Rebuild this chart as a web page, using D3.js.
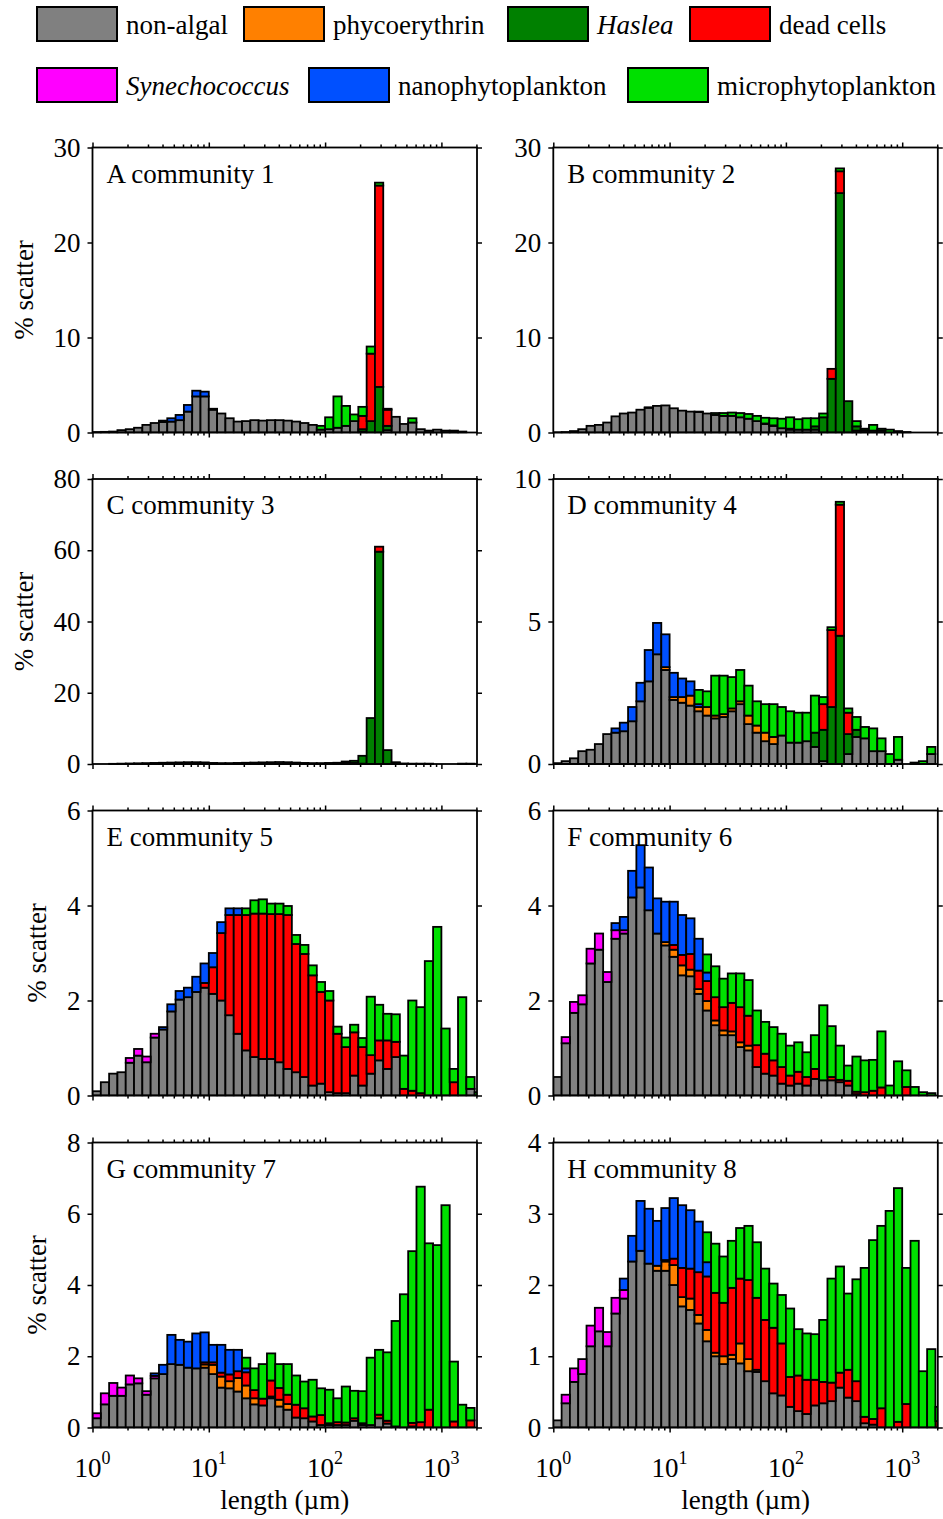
<!DOCTYPE html>
<html>
<head>
<meta charset="utf-8">
<script src="https://cdn.jsdelivr.net/npm/d3@7"></script>
<style>
  body { margin: 0; background: #fff; }
  text { font-family: "Liberation Serif", "Times New Roman", serif; fill: #000; }
</style>
</head>
<body>
<svg id="chart" width="943" height="1519"></svg>
<script>
// % scatter per size bin (47 log bins, 14 per decade, starting at 1 um)
// arrays may stop early: missing bins are zero

// A community 1
const A_nonalgal = [0.05,0.07,0.1,0.25,0.35,0.5,0.8,1.0,1.1,1.15,
  1.3,2.2,3.8,3.8,2.4,2.0,1.5,1.15,1.2,1.3,
  1.25,1.3,1.3,1.25,1.15,1.0,0.8,0.3,0.35,0.5,
  0.7,1.2,0.1,0,0,0.25,1.65,0.9,1.05,0.35,
  0.2,0.3,0.2,0.05,0.1];
const A_haslea = [0,0,0,0,0,0,0,0,0,0, 0,0,0,0,0,0,0,0,0,0, 0,0,0,0,0,0,0,0,0,0, 0,0,0.25,1.2,4.8,0.45];
const A_dead   = [0,0,0,0,0,0,0,0,0,0, 0,0,0,0,0,0,0,0,0,0, 0,0,0,0,0,0,0,0,0,0, 0,0,1.4,7.1,21.2,1.7];
const A_nano   = [0,0,0,0,0,0,0,0,0.15,0.35, 0.55,0.7,0.6,0.5,0.1];
const A_micro  = [0,0,0,0,0,0,0,0,0,0, 0,0,0,0,0,0,0,0,0,0,
  0,0,0,0,0,0,0,0.4,1.25,3.3,
  2.1,0.7,0.95,0.75,0.3,0.1,0,0,0.45,0,
  0,0,0,0.15];

// B community 2
const B_nonalgal = [0.02,0.05,0.15,0.35,0.7,0.8,1.05,1.7,2.0,2.1,
  2.4,2.6,2.8,2.85,2.55,2.3,2.2,2.15,2.0,1.85,
  1.75,1.75,1.6,1.45,1.2,0.9,0.7,0.45,0.3,0.3,
  0.3,0.3,0,0,0,0,0.2,0.2,0.2,0.2,
  0,0.15,0.05];
const B_phyco  = [0,0,0,0,0,0,0,0,0,0, 0,0,0,0,0,0,0,0.05,0,0, 0,0,0,0,0,0.05,0.05];
const B_haslea = [0,0,0,0,0,0,0,0,0,0, 0,0,0,0,0,0,0,0,0,0, 0,0,0,0,0,0,0,0,0.1,0, 0,0.35,1.6,5.65,25.2,3.3,0.45,0.2];
const B_dead   = [0,0,0,0,0,0,0,0,0,0, 0,0,0,0,0,0,0,0,0,0, 0,0,0,0,0,0,0,0,0,0, 0,0,0,1.05,2.3];
const B_nano   = [0,0,0,0,0,0,0,0,0,0, 0,0.05];
const B_micro  = [0,0,0,0,0,0,0,0,0,0, 0,0,0,0,0,0,0,0,0,0.2,
  0.3,0.35,0.45,0.5,0.55,0.6,0.75,1.0,1.2,1.1,
  1.2,0.85,0.4,0,0.3,0,0.55,0,0.6,0.2,
  0.3];

// C community 3
const C_nonalgal = [0,0,0.05,0.1,0.15,0.2,0.25,0.3,0.35,0.4,
  0.45,0.5,0.5,0.45,0.3,0.25,0.25,0.3,0.35,0.4,
  0.45,0.5,0.55,0.5,0.4,0.3,0.25,0.25,0.3,0.35,
  0.4,0.3,0.1,0,0,0,0.2,0.15,0.1,0.1,
  0.1,0,0,0,0.1,0.1];
const C_haslea = [0,0,0,0,0,0,0,0,0,0, 0,0,0,0,0,0,0,0,0,0, 0,0,0,0,0,0,0,0,0,0, 0.3,0.6,2.2,12.9,59.6,3.9,0.3];
const C_dead   = [0,0,0,0,0,0,0,0,0,0, 0,0,0,0,0,0,0,0,0,0, 0,0,0,0,0,0,0,0,0,0, 0,0,0,0,1.4];

// D community 4
const D_nonalgal = [0.03,0.1,0.2,0.45,0.5,0.7,1.05,1.1,1.15,1.5,
  2.2,2.9,3.85,3.3,2.25,2.15,2.05,1.85,1.7,1.6,
  1.65,1.85,2.1,1.4,1.1,0.8,0.7,1.0,0.75,0.75,
  0.8,0.6,0.1,0,0,0.35,0.95,0.9,0.45,0.45,
  0,0.15,0,0,0,0.35];
const D_phyco  = [0,0,0,0,0,0,0,0,0,0, 0,0,0,0.1,0.1,0.2,0.35,0.15,0.3,0.1, 0.1,0.1,0.1,0.3,0.25,0.3,0.25];
const D_haslea = [0,0,0,0,0,0,0,0,0,0, 0,0,0,0,0,0,0,0,0,0, 0,0,0,0,0,0,0,0,0,0, 0,0.5,1.1,2.0,4.5,0.7,0.25];
const D_dead   = [0,0,0,0,0,0,0,0,0,0, 0,0,0,0,0,0,0,0,0,0, 0,0,0,0,0,0,0,0,0,0, 0,0,0.9,2.7,4.6,0.75];
const D_nano   = [0,0,0,0,0,0,0,0.15,0.3,0.5, 0.65,1.1,1.1,1.15,0.85,0.65,0.5,0.1];
const D_micro  = [0,0,0,0,0,0,0,0,0,0,
  0,0,0,0,0,0,0,0.5,0.55,1.4,
  1.35,1.1,1.1,1.05,0.85,1.0,1.15,1.0,1.1,1.05,
  1.0,1.3,0.25,0.1,0.1,0.15,0.45,0.4,0.8,0.45,
  0.35,0.8,0,0.05,0.1,0.25];

// E community 5
const E_nonalgal = [0.09,0.28,0.46,0.49,0.69,0.84,0.7,1.22,1.39,1.77,
  2.02,2.07,2.18,2.27,2.14,2.0,1.69,1.3,0.95,0.81,
  0.77,0.77,0.7,0.56,0.49,0.39,0.21,0.25,0.07,0.05,
  0.05,0.42,0.21,0.46,0.74,0.56,0.81,0,0,0,
  0,0,0,0,0,0.14];
const E_syn  = [0,0,0,0,0.1,0.14,0.12,0.08];
const E_dead = [0,0,0,0,0,0,0,0,0,0,
  0,0,0,0.1,0.56,1.42,2.11,2.5,2.85,3.02,
  3.06,3.05,3.12,3.24,2.7,2.59,2.32,1.93,1.93,1.25,
  0.97,0.91,0.81,0.39,0.42,0.6,0.32,0.14,0.1,0.05,
  0,0,0,0.28];
const E_nano = [0,0,0,0,0,0,0,0,0.05,0.15, 0.18,0.2,0.32,0.41,0.3,0.23,0.14,0.14];
const E_micro = [0,0,0,0,0,0,0,0,0,0,
  0,0,0,0,0,0,0,0,0.14,0.28,
  0.3,0.22,0.22,0.19,0.19,0.19,0.21,0.21,0.2,0.15,
  0.2,0.16,0.19,1.23,0.75,0.56,0.58,0.7,1.9,1.81,
  2.83,3.55,1.41,0.28,2.07,0.25,0.07];

// F community 6
const F_nonalgal = [0.39,1.1,1.74,1.92,2.78,3.07,2.39,3.3,3.41,4.17,
  4.38,3.9,3.41,3.16,2.92,2.53,2.51,2.14,1.79,1.48,
  1.27,1.27,1.02,0.95,0.6,0.46,0.42,0.25,0.21,0.25,
  0.21,0.35,0.32,0.32,0.28,0.21,0.03];
const F_syn   = [0,0.13,0.23,0.19,0.31,0.34,0.21,0.18,0.07];
const F_phyco = [0,0,0,0,0,0,0,0,0,0, 0,0,0,0.07,0.15,0.21,0.14,0.1,0.2,0.1, 0.1,0.08,0.1,0.1];
const F_dead  = [0,0,0,0,0,0,0,0,0,0,
  0,0,0,0,0.1,0.22,0.33,0.39,0.42,0.49,
  0.49,0.6,0.74,0.63,0.46,0.42,0.32,0.35,0.21,0.25,
  0.18,0.21,0,0.07,0.05,0.1,0.05,0.07,0.1,0.17,
  0,0,0.18];
const F_nano  = [0,0,0,0,0,0,0,0.15,0.28,0.56, 0.89,0.9,0.74,0.85,0.91,0.84,0.75,0.67,0.18];
const F_micro = [0,0,0,0,0,0,0,0,0,0,
  0,0,0,0,0,0,0,0,0.38,0.65,
  0.6,0.62,0.71,0.75,0.73,0.67,0.7,0.7,0.63,0.62,
  0.52,0.71,1.58,1.07,0.72,0.32,0.74,0.67,0.65,1.18,
  0.21,0.72,0.35,0.18,0.07,0.05];

// G community 7
const G_nonalgal = [0.26,0.65,0.89,0.89,1.21,1.24,0.92,1.38,1.5,1.78,
  1.76,1.68,1.66,1.68,1.5,1.12,1.1,1.01,0.82,0.65,
  0.62,0.82,0.59,0.5,0.28,0.26,0.17,0.07,0.07,0.07,
  0.07,0.19,0.07,0.07,0.26,0.11,0.03,0,0.03];
const G_syn   = [0.14,0.31,0.36,0.23,0.25,0.14,0.1,0.07];
const G_phyco = [0,0,0,0,0,0,0,0,0,0, 0,0,0,0.09,0.26,0.31,0.2,0.38,0.36,0.17, 0,0.05,0.19,0.16];
const G_dead  = [0,0,0,0,0,0,0,0,0,0,
  0,0,0,0.06,0.07,0.11,0.19,0.19,0.37,0.23,
  0.19,0.45,0.33,0.26,0.36,0.28,0.14,0.28,0.05,0.08,
  0.07,0.07,0.05,0,0.1,0.08,0,0,0.1,0.15,
  0.5,0,0,0.17,0,0.2];
const G_nano  = [0,0,0,0,0,0,0,0.07,0.26,0.82, 0.7,0.73,0.98,0.84,0.49,0.78,0.69,0.6,0.11];
const G_micro = [0,0,0,0,0,0,0,0,0,0,
  0,0,0,0,0,0,0,0,0.3,0.61,
  0.97,0.76,0.67,0.86,0.82,0.75,1.03,0.75,0.94,0.67,
  1.01,0.77,0.9,1.89,1.82,1.92,2.96,3.74,4.82,6.61,
  4.67,5.12,6.24,1.68,0.64,0.35];

// H community 8
const H_nonalgal = [0.1,0.34,0.64,0.75,1.14,1.35,1.14,1.6,1.81,2.33,
  2.48,2.3,2.2,2.2,2.0,1.7,1.65,1.46,1.21,1.0,
  0.89,0.96,0.9,0.79,0.78,0.65,0.48,0.45,0.29,0.23,
  0.19,0.31,0.34,0.37,0.56,0.42,0.37,0.06,0.04];
const H_syn   = [0,0.12,0.19,0.21,0.29,0.33,0.2,0.22,0.12];
const H_phyco = [0,0,0,0,0,0,0,0,0,0, 0,0,0.07,0.13,0.28,0.13,0.16,0.12,0.16,0.05, 0.11,0.06,0.28,0.17,0.03];
const H_dead  = [0,0,0,0,0,0,0,0,0,0,
  0,0,0,0.02,0.09,0.41,0.42,0.6,0.75,0.84,
  0.75,0.94,0.91,1.11,1.01,0.86,0.92,0.73,0.42,0.5,
  0.48,0.36,0.3,0.26,0.21,0.39,0.28,0.09,0.08,0.27,
  0,0.08,0.33,0,0,0,0.09];
const H_nano  = [0,0,0,0,0,0,0,0,0.16,0.36, 0.7,0.77,0.63,0.73,0.85,0.88,0.82,0.71,0.2];
const H_micro = [0,0,0,0,0,0,0,0,0,0,
  0,0,0,0,0,0,0,0,0.42,0.69,
  0.65,0.66,0.71,0.76,0.78,0.72,0.62,0.68,0.96,0.65,
  0.65,0.64,0.87,1.46,1.49,1.07,1.43,2.09,2.51,2.56,
  3.04,3.28,1.91,2.62,0.79,1.1,0.2];

const categories = ["nonalgal","phyco","haslea","dead","syn","nano","micro"];
const catLabels  = ["non-algal","phycoerythrin","Haslea","dead cells","Synechococcus","nanophytoplankton","microphytoplankton"];
const catColors  = ["#808080","#ff8000","#008000","#ff0000","#ff00ff","#0050ff","#00e000"];
const catItalic  = [false,false,true,false,true,false,false];

const panelTitles = ["A community 1","B community 2","C community 3","D community 4",
                     "E community 5","F community 6","G community 7","H community 8"];
const yMaxes = [30,30,80,10,6,6,8,4];
const ySteps = [10,10,20,5,2,2,2,1];

const panelData = [
  {nonalgal:A_nonalgal, haslea:A_haslea, dead:A_dead, nano:A_nano, micro:A_micro},
  {nonalgal:B_nonalgal, phyco:B_phyco, haslea:B_haslea, dead:B_dead, nano:B_nano, micro:B_micro},
  {nonalgal:C_nonalgal, haslea:C_haslea, dead:C_dead},
  {nonalgal:D_nonalgal, phyco:D_phyco, haslea:D_haslea, dead:D_dead, nano:D_nano, micro:D_micro},
  {nonalgal:E_nonalgal, syn:E_syn, dead:E_dead, nano:E_nano, micro:E_micro},
  {nonalgal:F_nonalgal, syn:F_syn, phyco:F_phyco, dead:F_dead, nano:F_nano, micro:F_micro},
  {nonalgal:G_nonalgal, syn:G_syn, phyco:G_phyco, dead:G_dead, nano:G_nano, micro:G_micro},
  {nonalgal:H_nonalgal, syn:H_syn, phyco:H_phyco, dead:H_dead, nano:H_nano, micro:H_micro}
];

const nBins = 47, binsPerDecade = 14;

// layout
const colX = [92.5, 553.3], rowY = [147.5, 479, 810.5, 1142.5];
const pw = 384.5, ph = 285, decadePx = 116.3;
const fontSize = 27;

const svg = d3.select("#chart");
svg.append("rect").attr("width", 943).attr("height", 1519).attr("fill", "#fff");

const x = d3.scaleLog().domain([1, Math.pow(10, pw / decadePx)]).range([0, pw]);
const xMajor = [1, 10, 100, 1000];
const xMinor = [];
xMajor.forEach(d => d3.range(2, 10).forEach(m => { if (d * m < x.domain()[1]) xMinor.push(d * m); }));

function addText(g, tx, ty, str, anchor, size) {
  return g.append("text")
    .attr("x", tx).attr("y", ty)
    .attr("text-anchor", anchor || "start")
    .style("font-size", (size || fontSize) + "px")
    .text(str);
}

panelData.forEach((pd, i) => {
  const col = i % 2, row = Math.floor(i / 2);
  const g = svg.append("g").attr("transform", `translate(${colX[col]},${rowY[row]})`);
  const y = d3.scaleLinear().domain([0, yMaxes[i]]).range([ph, 0]);

  const rows = d3.range(nBins).map(k => {
    const r = {lo: Math.pow(10, k / binsPerDecade), hi: Math.pow(10, (k + 1) / binsPerDecade)};
    categories.forEach(c => { r[c] = pd[c] ? (pd[c][k] || 0) : 0; });
    return r;
  });
  const series = d3.stack().keys(categories)(rows);

  g.append("clipPath").attr("id", "clip" + i)
    .append("rect").attr("width", pw).attr("height", ph + 2).attr("y", -1);
  const plot = g.append("g").attr("clip-path", `url(#clip${i})`);

  series.forEach((s, si) => {
    plot.selectAll(null)
      .data(s.filter(d => d[1] - d[0] > 0))
      .join("rect")
        .attr("x", d => x(d.data.lo))
        .attr("width", d => x(d.data.hi) - x(d.data.lo))
        .attr("y", d => y(d[1]))
        .attr("height", d => y(d[0]) - y(d[1]))
        .attr("fill", catColors[si])
        .attr("stroke", "#000")
        .attr("stroke-width", 1.8);
  });

  // ticks on all four sides, pointing out
  const yTicks = d3.range(0, yMaxes[i] + 1e-9, ySteps[i]);
  const tickStyle = sel => {
    sel.select(".domain").remove();
    sel.selectAll("line").attr("stroke", "#000").attr("stroke-width", 1.5);
  };
  g.append("g").call(d3.axisLeft(y).tickValues(yTicks).tickSize(5).tickFormat("")).call(tickStyle);
  g.append("g").attr("transform", `translate(${pw},0)`)
    .call(d3.axisRight(y).tickValues(yTicks).tickSize(5).tickFormat("")).call(tickStyle);
  g.append("g").attr("transform", `translate(0,${ph})`)
    .call(d3.axisBottom(x).tickValues(xMajor).tickSize(5).tickFormat("")).call(tickStyle);
  g.append("g").attr("transform", `translate(0,${ph})`)
    .call(d3.axisBottom(x).tickValues(xMinor).tickSize(3).tickFormat("")).call(tickStyle);
  g.append("g").call(d3.axisTop(x).tickValues(xMajor).tickSize(5).tickFormat("")).call(tickStyle);
  g.append("g").call(d3.axisTop(x).tickValues(xMinor).tickSize(3).tickFormat("")).call(tickStyle);

  g.append("rect").attr("width", pw).attr("height", ph)
    .attr("fill", "none").attr("stroke", "#000").attr("stroke-width", 1.8);

  // y tick labels
  let labelW = 0;
  yTicks.forEach(v => {
    const t = addText(g, -12, y(v) + 9, d3.format("d")(v), "end");
    labelW = Math.max(labelW, t.node().getComputedTextLength());
  });

  addText(g, 14, 35, panelTitles[i]);

  if (col === 0) {
    const ly = ph / 2, lx = -12 - labelW - 21;
    g.append("text")
      .attr("transform", `translate(${lx},${ly}) rotate(-90)`)
      .attr("text-anchor", "middle")
      .style("font-size", fontSize + "px")
      .text("% scatter");
  }

  if (row === 3) {
    xMajor.forEach((v, n) => {
      const t = g.append("text").attr("x", x(v)).attr("y", ph + 49)
        .attr("text-anchor", "middle").style("font-size", fontSize + "px");
      t.append("tspan").text("10");
      t.append("tspan").attr("dy", -13).style("font-size", "18px").text(n);
    });
    addText(g, pw / 2, ph + 81, "length (\u00b5m)", "middle");
  }
});

// legend
const legendPos = [[37,7],[244,7],[508,7],[690,7],[37,68],[309,68],[628,68]];
const lg = svg.append("g");
categories.forEach((c, ci) => {
  const [lx, ly] = legendPos[ci];
  lg.append("rect").attr("x", lx).attr("y", ly).attr("width", 80).attr("height", 34)
    .attr("fill", catColors[ci]).attr("stroke", "#000").attr("stroke-width", 2);
  addText(lg, lx + 89, ly + 27, catLabels[ci])
    .style("font-style", catItalic[ci] ? "italic" : "normal");
});
</script>
</body>
</html>
